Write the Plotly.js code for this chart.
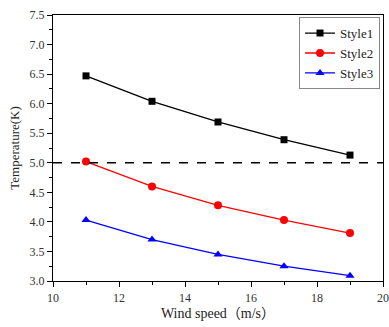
<!DOCTYPE html>
<html>
<head>
<meta charset="utf-8">
<script src="https://cdn.plot.ly/plotly-3.0.1.min.js"></script>
<style>html,body{margin:0;padding:0;background:#fff;}#chart{width:389px;height:327px;}</style>
</head>
<body>
<div id="chart"></div>
<script>
const windSpeed = [11, 13, 15, 17, 19];
const style1 = [6.47, 6.04, 5.69, 5.39, 5.13];
const style2 = [5.02, 4.60, 4.28, 4.03, 3.81];
const style3 = [4.03, 3.70, 3.45, 3.25, 3.09];
const seriesNames = ['Style1', 'Style2', 'Style3'];
const threshold = 5.0;

const serif = '"Liberation Serif", "Times New Roman", "Noto Sans CJK SC", serif';
const traces = [
  {x: windSpeed, y: style1, name: seriesNames[0], mode: 'lines+markers',
   line: {color: '#000000', width: 1.3}, marker: {symbol: 'square', size: 7, color: '#000000'}},
  {x: windSpeed, y: style2, name: seriesNames[1], mode: 'lines+markers',
   line: {color: '#ff0000', width: 1.3}, marker: {symbol: 'circle', size: 8, color: '#ff0000'}},
  {x: windSpeed, y: style3, name: seriesNames[2], mode: 'lines+markers',
   line: {color: '#0000ff', width: 1.3}, marker: {symbol: 'triangle-up', size: 8, color: '#0000ff'}}
];

const layout = {
  width: 389, height: 327,
  margin: {l: 53, r: 6, t: 15, b: 46},
  paper_bgcolor: '#fff', plot_bgcolor: '#fff',
  font: {family: serif, size: 12, color: '#333'},
  showlegend: true,
  legend: {x: 0.991, xanchor: 'right', y: 0.992, yanchor: 'top',
           bordercolor: '#888', borderwidth: 1, bgcolor: '#fff',
           font: {family: serif, size: 13, color: '#222'},
           tracegroupgap: 0, itemwidth: 30},
  xaxis: {
    showline: true, linecolor: '#000', linewidth: 1.2, mirror: true,
    ticks: 'outside', ticklen: 5, tickwidth: 1, tickcolor: '#000',
    showgrid: false, zeroline: false,
    tickfont: {family: serif, size: 12, color: '#333'},
    range: [10, 20], dtick: 2, tick0: 10,
    minor: {dtick: 1, ticks: 'outside', ticklen: 3, tickcolor: '#000'},
    title: {text: 'Wind speed（m/s）', font: {family: serif, size: 14, color: '#222'}, standoff: 4}
  },
  yaxis: {
    showline: true, linecolor: '#000', linewidth: 1.2, mirror: true,
    ticks: 'outside', ticklen: 5, tickwidth: 1, tickcolor: '#000',
    showgrid: false, zeroline: false,
    tickfont: {family: serif, size: 12, color: '#333'},
    range: [3.0, 7.5], dtick: 0.5, tick0: 3.0, tickformat: '.1f',
    minor: {dtick: 0.25, ticks: 'outside', ticklen: 3, tickcolor: '#000'},
    title: {text: 'Temperature(K)', font: {family: serif, size: 13, color: '#222'}, standoff: 6}
  },
  shapes: [{type: 'line', xref: 'paper', x0: 0, x1: 1, yref: 'y', y0: threshold, y1: threshold,
            line: {color: '#000', width: 1.5, dash: 'dash'}}]
};

Plotly.newPlot('chart', traces, layout, {displayModeBar: false, staticPlot: true});
</script>
</body>
</html>
